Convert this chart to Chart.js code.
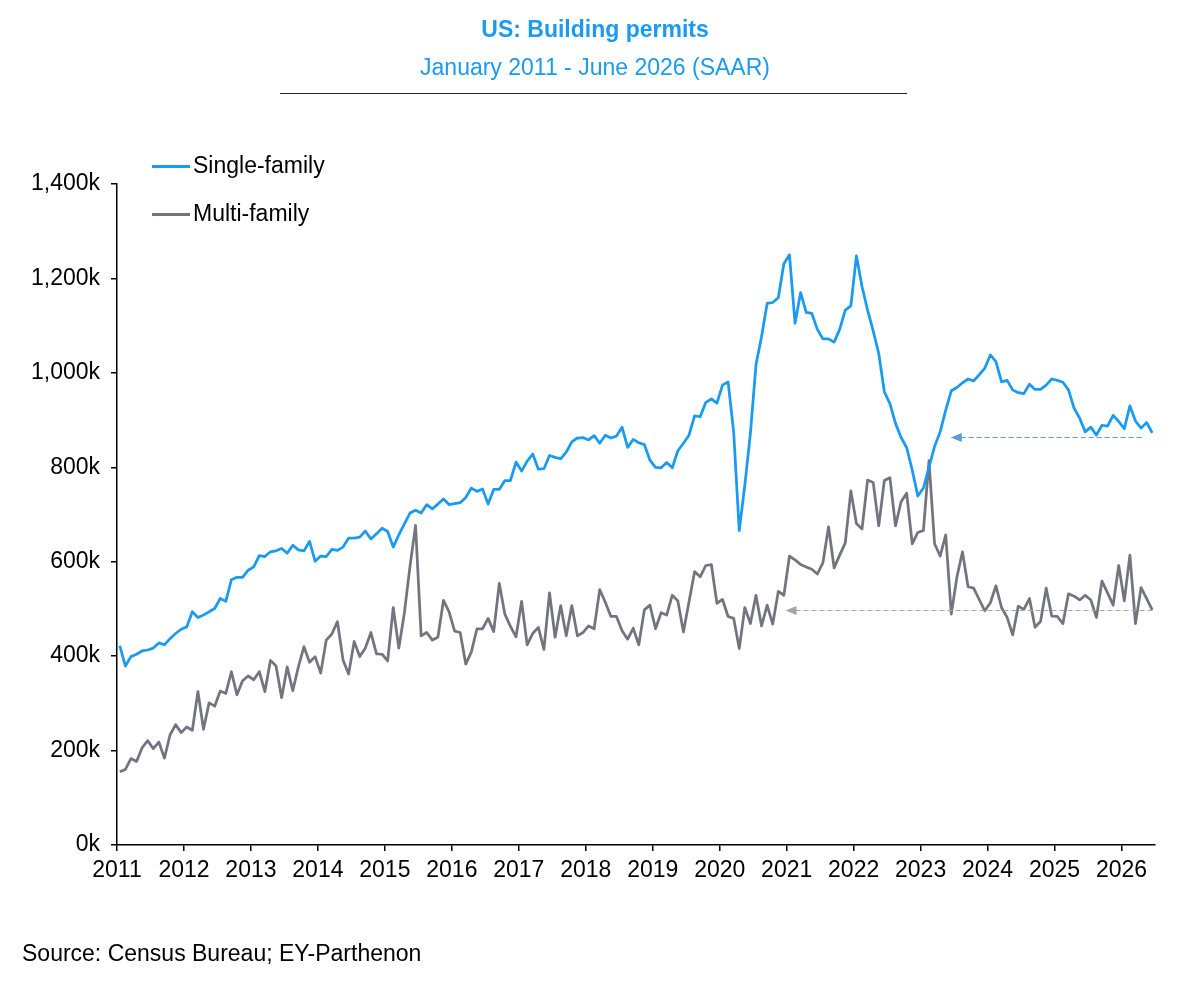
<!DOCTYPE html>
<html>
<head>
<meta charset="utf-8">
<title>US: Building permits</title>
<script src="https://cdn.jsdelivr.net/npm/chart.js@4.4.1/dist/chart.umd.min.js"></script>
<style>
  html, body { margin: 0; padding: 0; background: #fff; }
  #wrap { position: relative; width: 1200px; height: 995px; font-family: "Liberation Sans", Arial, sans-serif; color: #000; }
  #chart { position: absolute; left: 0; top: 0; }
  .txt { position: absolute; font-size: 23px; line-height: 27px; white-space: nowrap; }
  .centro { left: 0; width: 1190px; text-align: center; color: #1A9AF0; }
  .regua { position: absolute; left: 280px; top: 93px; width: 627px; border-top: 1.5px solid #222; }
  .amostra { position: absolute; left: 152px; width: 38px; height: 3px; }
</style>
</head>
<body>
<div id="wrap">
  <canvas id="chart" width="1200" height="995"></canvas>
  <div class="txt centro" style="top:16px; font-weight:bold;">US: Building permits</div>
  <div class="txt centro" style="top:54px;">January 2011 - June 2026 (SAAR)</div>
  <div class="regua"></div>
  <div class="amostra" style="top:164.5px; background:#1A9AF0;"></div>
  <div class="txt" style="left:193px; top:152px;">Single-family</div>
  <div class="amostra" style="top:212.5px; background:#747480;"></div>
  <div class="txt" style="left:193px; top:200px;">Multi-family</div>
  <div class="txt" style="left:22px; top:940px;">Source: Census Bureau; EY-Parthenon</div>
</div>
<script>
// ============================================================
// DADOS — permits, thousands of units (SAAR), Jan 2011 .. Jun 2026
// ============================================================
const years = [2011, 2012, 2013, 2014, 2015, 2016, 2017, 2018, 2019, 2020, 2021, 2022, 2023, 2024, 2025, 2026];

const singleFamily = [
  422, 379, 399, 404, 411, 413, 417, 428, 424, 437, 448, 457,
  462, 494, 482, 487, 494, 501, 522, 516, 562, 567, 567, 582,
  589, 613, 611, 621, 623, 628, 618, 635, 625, 623, 643, 601,
  612, 611, 626, 624, 631, 650, 650, 652, 665, 648, 659, 671,
  664, 631, 657, 680, 703, 709, 703, 721, 712, 722, 733, 721,
  723, 725, 736, 756, 749, 754, 722, 753, 753, 772, 772, 811,
  792, 813, 828, 796, 797, 825, 821, 818, 832, 854, 862, 863,
  858, 867, 851, 868, 862, 866, 885, 842, 859, 852, 848, 815,
  800, 799, 810, 799, 835, 851, 868, 909, 907, 937, 945, 936,
  974, 981, 875, 666, 762, 872, 1017, 1077, 1147, 1149, 1159, 1231,
  1250, 1105, 1170, 1128, 1126, 1092, 1072, 1072, 1065, 1092, 1133, 1142,
  1248, 1183, 1133, 1089, 1041, 960, 935, 893, 863, 842, 794, 739,
  756, 800, 844, 875, 921, 962, 969, 979, 987, 983, 996, 1010,
  1038, 1024, 981, 984, 964, 958, 956, 976, 965, 965, 974, 987,
  984, 980, 964, 925, 904, 875, 885, 868, 889, 887, 910, 897,
  882, 930, 898, 883, 895, 873,
];

const multiFamily = [
  155, 160, 183, 177, 206, 221, 204, 218, 184, 233, 255, 238,
  250, 243, 325, 245, 301, 294, 326, 321, 367, 318, 348, 358,
  350, 367, 325, 391, 379, 312, 377, 327, 377, 420, 387, 399,
  364, 434, 447, 473, 392, 362, 431, 399, 417, 450, 405, 404,
  390, 503, 417, 492, 590, 677, 443, 450, 434, 440, 518, 494,
  453, 450, 383, 409, 458, 458, 480, 452, 554, 489, 463, 441,
  516, 424, 448, 461, 414, 534, 440, 507, 443, 507, 443, 450,
  464, 458, 541, 514, 484, 484, 454, 436, 459, 424, 498, 508,
  458, 492, 487, 529, 517, 451, 515, 579, 568, 592, 594, 512,
  520, 484, 480, 416, 503, 469, 529, 464, 508, 468, 537, 529,
  612, 604, 594, 589, 584, 574, 598, 674, 587, 614, 640, 750,
  681, 669, 773, 768, 676, 772, 778, 676, 727, 745, 638, 662,
  666, 814, 638, 612, 657, 489, 567, 621, 547, 544, 520, 496,
  513, 549, 503, 482, 445, 506, 499, 522, 461, 474, 544, 485,
  484, 469, 532, 527, 519, 529, 519, 482, 559, 534, 508, 592,
  517, 614, 469, 545, 522, 498,
];

// dashed "latest level" guides: level (k), from month, to month
const guideLevels = [865, 497];
const guideFrom = [149.4, 119.8];
const guideTo = [183.8, 185.6];
const guideColors = ["#5B9BD5", "#A6A6A6"];

// ============================================================
// HELPERS
// ============================================================
// each month sits in the middle of its slot, year ticks on the slot edges
function paraPontos(valores) {
  return valores.map((v, i) => ({ x: i + 0.5, y: v }));
}

const guiasPlugin = {
  id: "guias",
  afterDatasetsDraw(chart) {
    const { ctx, scales } = chart;
    guideLevels.forEach((nivel, k) => {
      const y = Math.round(scales.y.getPixelForValue(nivel)) + 0.5;
      const x1 = scales.x.getPixelForValue(guideFrom[k]);
      const x2 = scales.x.getPixelForValue(guideTo[k]);
      ctx.save();
      ctx.strokeStyle = guideColors[k];
      ctx.fillStyle = guideColors[k];
      ctx.lineWidth = 1;
      ctx.setLineDash([5, 3]);
      ctx.beginPath();
      ctx.moveTo(x1 + 10, y);
      ctx.lineTo(x2, y);
      ctx.stroke();
      ctx.setLineDash([]);
      ctx.beginPath();
      ctx.moveTo(x1, y);
      ctx.lineTo(x1 + 11, y - 4.5);
      ctx.lineTo(x1 + 11, y + 4.5);
      ctx.closePath();
      ctx.fill();
      ctx.restore();
    });
  },
};

const fonteEixo = { family: "'Liberation Sans', Arial, sans-serif", size: 23 };
const gradeEixo = { display: true, drawOnChartArea: false, drawTicks: true, tickLength: 6, color: "#000", lineWidth: 1.5 };

new Chart(document.getElementById("chart"), {
  type: "line",
  data: {
    datasets: [
      { label: "Single-family", data: paraPontos(singleFamily), borderColor: "#1A9AF0", borderWidth: 2.75 },
      { label: "Multi-family", data: paraPontos(multiFamily), borderColor: "#747480", borderWidth: 2.75 },
    ],
  },
  options: {
    responsive: false,
    animation: false,
    devicePixelRatio: 1,
    layout: { padding: { left: 0, right: 45, top: 184, bottom: 0 } },
    elements: {
      point: { radius: 0 },
      line: { tension: 0, borderJoinStyle: "round", fill: false },
    },
    plugins: { legend: { display: false }, tooltip: { enabled: false } },
    scales: {
      x: {
        type: "linear",
        min: 0,
        max: singleFamily.length,
        grid: gradeEixo,
        border: { display: true, color: "#000", width: 1.5 },
        ticks: {
          autoSkip: false,
          maxRotation: 0,
          padding: 6,
          color: "#000",
          font: fonteEixo,
          callback: (v) => years[v / 12],
        },
        // one tick on the left edge of every January
        afterBuildTicks: (scale) => {
          scale.ticks = years.map((_, k) => ({ value: k * 12 }));
        },
        afterFit: (scale) => { scale.height = 150; },
      },
      y: {
        min: 0,
        max: 1400,
        grid: gradeEixo,
        border: { display: true, color: "#000", width: 1.5 },
        ticks: {
          stepSize: 200,
          padding: 11,
          color: "#000",
          font: fonteEixo,
          callback: (v) => v.toLocaleString("en-US") + "k",
        },
        afterFit: (scale) => { scale.width = 117; },
      },
    },
  },
  plugins: [guiasPlugin],
});
</script>
</body>
</html>
